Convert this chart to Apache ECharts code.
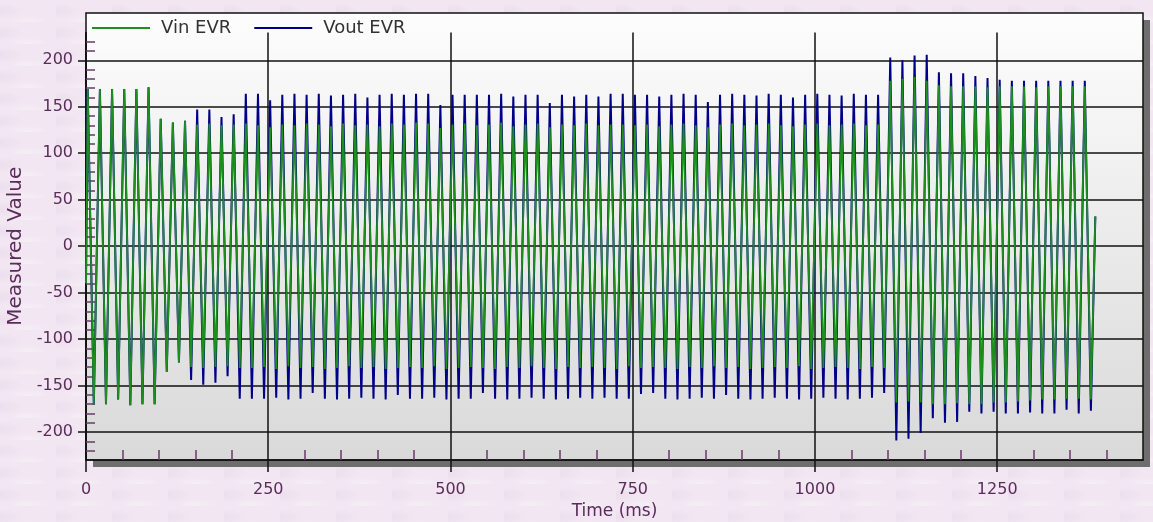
<!DOCTYPE html>
<html><head><meta charset="utf-8">
<script src="https://cdn.jsdelivr.net/npm/echarts@6/dist/echarts.min.js"></script>
<style>
html,body{margin:0;padding:0;}
body{width:1153px;height:522px;overflow:hidden;background-color:#f1e6f1;
background-image:
 radial-gradient(ellipse 30px 10px at 50% 100%, rgba(255,255,255,0.35), rgba(255,255,255,0) 75%),
 radial-gradient(ellipse 30px 10px at 0% 50%, rgba(215,185,215,0.18), rgba(215,185,215,0) 75%);
background-size:56px 22px,56px 22px;}
#chart{width:1153px;height:522px;}
</style></head><body><div id="chart"></div>
<script>
// ---- data ----
const seriesNames = ['Vin EVR', 'Vout EVR'];
const xTickLabels = [0, 250, 500, 750, 1000, 1250];
const yTickLabels = [-200, -150, -100, -50, 0, 50, 100, 150, 200];
const cycleMs = 16.68;        // spacing between successive positive peaks
const firstPeakMs = 3.1;      // time of first positive peak
const peakHoldMs = 1.4;       // width of the flat top/bottom of each stroke
const startValues = [-40, -40];
const endTimeMs = 1384.6;
const endValues = [32, 32];

const vinPeaks = [169,169,169,169,169,171,
 137,133,135,131,132,130,131,
 132,130,128,131,130,132,131,129,132,130,131,129,132,131,133,132,127,131,132,130,131,133,129,131,132,128,131,130,132,130,131,131,130,131,129,131,132,130,128,131,132,130,131,132,130,129,131,132,130,131,132,130,131,
 178,180,182,178,
 173,172,172,172,171,172,172,172,171,172,172,172,172];
const vinTroughs = [-170,-170,-165,-171,-170,-170,
 -135,-125,-130,-131,-130,-129,-131,
 -131,-130,-132,-129,-131,-130,-132,-131,-129,-131,-130,-132,-131,-130,-131,-129,-132,-131,-130,-131,-132,-130,-131,-129,-131,-132,-130,-131,-130,-131,-132,-129,-131,-130,-131,-132,-130,-131,-129,-131,-130,-132,-131,-130,-131,-129,-132,-131,-130,-131,-132,-130,-131,
 -168,-167,-168,-170,-170,-169,-170,-170,-168,-168,-167,-166,-165,-165,-164,-164,-165];
const voutPeaks = [169,169,169,169,169,171,137,133,135,
 147,147,139,142,164,164,157,163,164,
 163,164,162,163,164,160,163,164,
 163,164,164,152,163,163,163,163,164,161,163,163,154,163,161,163,161,
 164,164,163,163,161,
 163,164,163,155,163,164,163,162,164,163,160,163,164,163,162,164,163,163,
 203,200,205,206,
 187,186,186,183,181,179,178,178,178,178,178,178,178];
const voutTroughs = [-170,-170,-165,-171,-170,-170,-135,-125,
 -144,-149,-147,-140,-164,
 -164,-164,-163,-165,-164,-158,-164,-165,-164,-163,-164,-165,-160,-164,-164,-163,-165,-164,-164,-158,-164,-165,-164,-163,-164,-165,-164,-163,-164,
 -163,-164,-164,-159,-158,
 -164,-165,-164,-163,-164,-160,-164,-165,-164,-163,-164,-165,-164,-163,-164,-165,-164,-163,-158,
 -209,-207,-201,-185,-190,-189,-178,-180,-178,-180,-180,-179,-180,-180,-176,-180,-177];

// ---- build ----
function buildSeries(peaks, troughs, v0, vEnd) {
  const pts = [[0, v0]];
  const h = peakHoldMs / 2;
  for (let k = 0; k < peaks.length; k++) {
    const t = firstPeakMs + k * cycleMs;
    pts.push([t - h, peaks[k]], [t + h, peaks[k]]);
    const tt = t + cycleMs / 2;
    pts.push([tt - h, troughs[k]], [tt + h, troughs[k]]);
  }
  pts.push([endTimeMs, vEnd]);
  return pts;
}
const xMinor = [];
for (let v = 50; v < 1450; v += 50) if (v % 250 !== 0) xMinor.push(v);
const yMinor = [];
for (let v = -220; v <= 220; v += 10) if (v % 50 !== 0) yMinor.push(v);

const FONT = 'DejaVu Sans';
const PURPLE = '#5b2c5b';
const MINOR = '#6a3a6a';
const chart = echarts.init(document.getElementById('chart'), null, {renderer: 'canvas'});
const L = 86, R = 10, B = 62, SH = 7;
chart.setOption({
  backgroundColor: 'transparent',
  animation: false,
  textStyle: {fontFamily: FONT},
  legend: {
    data: seriesNames, left: 92, top: 19, padding: 0,
    icon: 'rect', itemWidth: 58, itemHeight: 2, itemGap: 23,
    textStyle: {fontFamily: FONT, fontSize: 18, color: '#333', padding: [0,0,0,6]}
  },
  grid: [
    {left: L, right: R, top: 13, bottom: B, show: true, z: 0, outerBoundsMode: 'none', containLabel: false,
     backgroundColor: new echarts.graphic.LinearGradient(0,0,0,1,[{offset:0,color:'#fdfdfd'},{offset:1,color:'#d9d9d9'}]),
     borderColor: '#111', borderWidth: 1.5},
    {left: L, right: R, top: 32.4, bottom: B, show: false, outerBoundsMode: 'none', containLabel: false},
    {left: L + SH, right: R - SH, top: 13 + SH, bottom: B - SH, show: true, z: -1, outerBoundsMode: 'none', containLabel: false,
     backgroundColor: '#6e6e6e', borderWidth: 0}
  ],
  xAxis: [
    {gridIndex: 1, type: 'value', min: 0, max: 1450, z: 1, position: 'bottom',
     name: 'Time (ms)', nameLocation: 'middle', nameGap: 38,
     nameTextStyle: {fontFamily: FONT, fontSize: 17, color: PURPLE},
     axisLine: {show: true, onZero: false, lineStyle: {color: '#111', width: 1.5}},
     axisTick: {show: true, inside: false, length: 12, customValues: xTickLabels, lineStyle: {color: '#111', width: 1.5}},
     axisLabel: {customValues: xTickLabels, margin: 22, fontFamily: FONT, fontSize: 16, color: PURPLE,
                 formatter: v => String(v)},
     splitLine: {show: true, lineStyle: {color: '#111', width: 1.5}}},
    {gridIndex: 1, type: 'value', min: 0, max: 1450, z: 1, position: 'bottom', offset: 0,
     axisLine: {show: false, onZero: false}, axisLabel: {show: false}, splitLine: {show: false},
     axisTick: {show: true, inside: true, length: 10, customValues: xMinor, lineStyle: {color: MINOR, width: 1.5}}},
    {gridIndex: 0, type: 'value', show: false, min: 0, max: 1},
    {gridIndex: 2, type: 'value', show: false, min: 0, max: 1}
  ],
  yAxis: [
    {gridIndex: 1, type: 'value', min: -230, max: 230, z: 1, position: 'left',
     name: 'Measured Value', nameLocation: 'middle', nameGap: 52,
     nameTextStyle: {fontFamily: FONT, fontSize: 20, color: PURPLE},
     axisLine: {show: true, onZero: false, lineStyle: {color: '#111', width: 1.5}},
     axisTick: {show: true, inside: false, length: 8, customValues: yTickLabels, lineStyle: {color: '#111', width: 1.5}},
     axisLabel: {customValues: yTickLabels, margin: 13, fontFamily: FONT, fontSize: 16, color: PURPLE},
     splitLine: {show: true, lineStyle: {color: '#111', width: 1.5}}},
    {gridIndex: 1, type: 'value', min: -230, max: 230, z: 1, position: 'left', offset: 0,
     axisLine: {show: false, onZero: false}, axisLabel: {show: false}, splitLine: {show: false},
     axisTick: {show: true, inside: true, length: 9, customValues: yMinor, lineStyle: {color: MINOR, width: 1.5}}},
    {gridIndex: 0, type: 'value', show: false, min: 0, max: 1},
    {gridIndex: 2, type: 'value', show: false, min: 0, max: 1}
  ],
  series: [
    {name: seriesNames[0], type: 'line', xAxisIndex: 0, yAxisIndex: 0, z: 4,
     showSymbol: false, symbol: 'none', color: '#1e8f1e',
     lineStyle: {color: '#1e8f1e', width: 1.8},
     data: buildSeries(vinPeaks, vinTroughs, startValues[0], endValues[0])},
    {name: seriesNames[1], type: 'line', xAxisIndex: 0, yAxisIndex: 0, z: 3,
     showSymbol: false, symbol: 'none', color: '#000088',
     lineStyle: {color: '#000088', width: 2},
     data: buildSeries(voutPeaks, voutTroughs, startValues[1], endValues[1])}
  ]
});
</script></body></html>
